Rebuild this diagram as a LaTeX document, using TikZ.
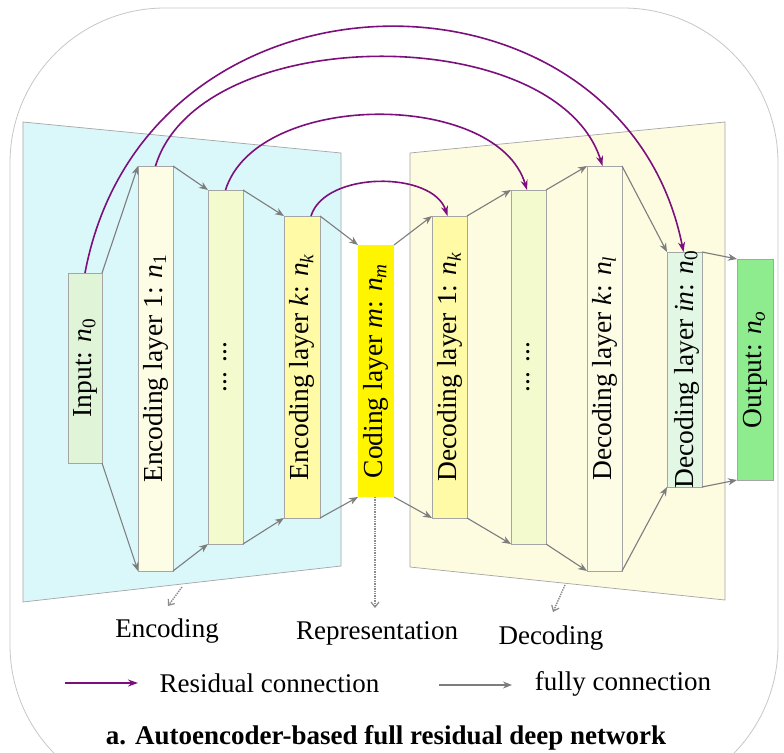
\documentclass[tikz,border=0pt]{standalone}
\usepackage{fontspec}
\setmainfont{Liberation Serif}
\usetikzlibrary{arrows.meta}
\definecolor{bgblue}{RGB}{218,247,250}
\definecolor{bgyellow}{RGB}{253,251,224}
\definecolor{cinput}{RGB}{224,245,216}
\definecolor{cone}{RGB}{253,252,228}
\definecolor{cdots}{RGB}{242,250,206}
\definecolor{ck}{RGB}{255,250,165}
\definecolor{ccode}{RGB}{255,245,0}
\definecolor{cdin}{RGB}{226,248,228}
\definecolor{cout}{RGB}{142,236,142}
\definecolor{respurple}{RGB}{125,15,125}
\definecolor{fullgray}{RGB}{125,125,125}
\definecolor{dotgray}{RGB}{140,140,140}
\definecolor{boxgray}{RGB}{165,165,165}
\newcommand\nsub[1]{\textit{n}\textsubscript{#1}}
\begin{document}
\begin{tikzpicture}[x=1pt,y=-1pt,
  box/.style={draw=boxgray, line width=0.7pt, minimum width=35pt, inner sep=0pt, outer sep=0pt},
  lbl/.style={rotate=90, inner sep=0pt, font=\fontsize{27.5}{30}\selectfont},
  txt/.style={inner sep=0pt, anchor=base, font=\fontsize{27}{30}\selectfont},
  full/.style={draw=fullgray, line width=1.1pt, -{Stealth[length=9pt,width=7pt]}},
  res/.style={draw=respurple, line width=1.6pt, -{Stealth[length=10pt,width=7pt]}},
  dotarrow/.style={draw=dotgray, line width=1.4pt, densely dotted, -{Straight Barb[length=5pt,width=8pt,line width=1.2pt]}}
]
\useasboundingbox (0,0) rectangle (784,752);
\fill[white] (0,0) rectangle (784,752);
% outer frame
\draw[draw=black!22, line width=0.8pt, rounded corners=155pt] (10,8) rectangle (778,800);
% panels
\draw[fill=bgblue, draw=boxgray, line width=0.7pt] (23,122) -- (341,153) -- (341,566) -- (23,602) -- cycle;
\draw[fill=bgyellow, draw=boxgray, line width=0.7pt] (410,153) -- (725,122) -- (725,600) -- (410,567) -- cycle;
% boxes
\node[box, fill=cinput, minimum height=190pt, minimum width=34pt] (in) at (85,368) {};
\node[box, fill=cone, minimum height=405pt] (e1) at (155.5,368.5) {};
\node[box, fill=cdots, minimum height=354pt] (ed) at (225.5,367) {};
\node[box, fill=ck, minimum height=302pt, minimum width=36pt] (ek) at (302,367) {};
\node[box, fill=ccode, draw=none, minimum height=252pt, minimum width=36pt] (cm) at (376,371) {};
\node[box, fill=ck, minimum height=302pt] (d1) at (449.5,367) {};
\node[box, fill=cdots, minimum height=354pt] (dd) at (528.5,367) {};
\node[box, fill=cone, minimum height=405pt] (dk) at (604.5,368.5) {};
\node[box, fill=cdin, minimum height=235pt] (din) at (684.5,369.5) {};
\node[box, fill=cout, minimum height=221pt, minimum width=36pt] (out) at (755,369.5) {};
% labels
\node[lbl] (tin) at (in) {Input: \nsub{0}};
\node[lbl] (te1) at (e1) {Encoding layer 1: \nsub{1}};
\node[lbl] (ted) at (ed) {... ...};
\node[lbl] (tek) at (ek) {Encoding layer \textit{k}: \nsub{\textit{k}}};
\node[lbl] (tcm) at (cm) {Coding layer \textit{m}: \nsub{\textit{m}}};
\node[lbl] (td1) at (d1) {Decoding layer 1: \nsub{\textit{k}}};
\node[lbl] (tdd) at (dd) {... ...};
\node[lbl] (tdk) at (dk) {Decoding layer \textit{k}: \nsub{\textit{l}}};
\node[lbl] (tdin) at ([xshift=2pt]din.center) {Decoding layer \textit{in}: \nsub{0}};
\node[lbl] (tout) at (out) {Output: \nsub{\textit{o}}};
% full connections
\foreach \a/\b in {in/e1, e1/ed, ed/ek, ek/cm, cm/d1, d1/dd, dd/dk, dk/din, din/out}{
  \draw[full] (\a.north east) -- (\b.north west);
  \draw[full] (\a.south east) -- (\b.south west);
}
% residual connections
\draw[res] (in.north) .. controls (146,-51.5) and (623,-51.5) .. ([xshift=-1pt]din.north);
\draw[res] (e1.north) .. controls (200,20.7) and (557,20.7) .. ([xshift=-2pt]dk.north);
\draw[res] (ed.north) .. controls (257,90) and (497,90) .. ([xshift=-1.5pt]dd.north);
\draw[res] ([xshift=9pt]ek.north) .. controls (325,170.7) and (433,170.7) .. ([xshift=-2pt]d1.north);
% dotted pointers
\coordinate (encfrom) at (182,587);
\coordinate (encto) at (168,606);
\coordinate (repto) at (375,608);
\coordinate (decfrom) at (565,585);
\coordinate (decto) at (553,612);
\draw[dotarrow] (encfrom) -- (encto);
\draw[dotarrow] ([xshift=-1pt]cm.south) -- (repto);
\draw[dotarrow] (decfrom) -- (decto);
\node[txt] (lenc) at (167,637) {Encoding};
\node[txt] (lrep) at (377,639) {Representation};
\node[txt] (ldec) at (551,644) {Decoding};
% legend
\coordinate (r1) at (65,683);
\coordinate (r2) at (138,683);
\coordinate (f1) at (439,685);
\coordinate (f2) at (512,685);
\draw[res] (r1) -- (r2);
\draw[full] (f1) -- (f2);
\node[txt] (lres) at (269.5,692) {Residual connection};
\node[txt] (lful) at (623,690) {fully connection};
\node[txt, font=\fontsize{27}{30}\selectfont\bfseries] (title) at (386,744) {a. Autoencoder-based full residual deep network};
\end{tikzpicture}
\end{document}
